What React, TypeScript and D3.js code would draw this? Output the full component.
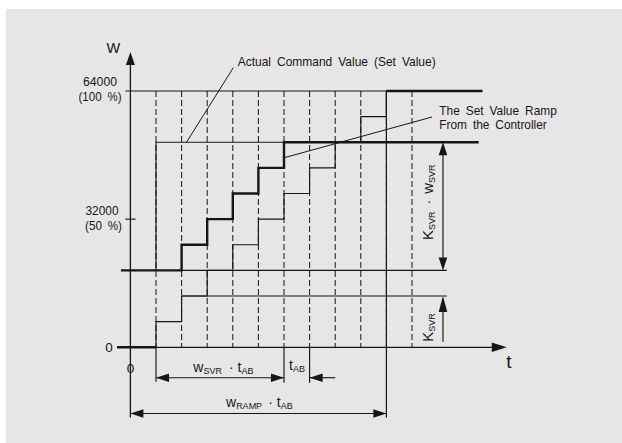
import React from "react";
import * as d3 from "d3";

// ---- data (time in units of t_AB, value in raw units) ----
const gridTimes = [1, 2, 3, 4, 5, 6, 7, 8, 9, 10, 11];
const yTickLabels = [["0"], ["32000", "(50 %)"], ["64000", "(100 %)"]];

// thick ramp from the controller (19200 -> 51200)
const rampTimes = [-0.37, 2, 3, 4, 5, 6, 13.6];
const rampValues = [19200, 25600, 32000, 38400, 44800, 51200, 51200];

// thin staircase 0 -> 64000
const stairTimes = [-0.52, 1, 2, 3, 4, 5, 6, 7, 8, 9, 10, 13.75];
const stairValues = [0, 6400, 12800, 19200, 25600, 32000, 38400, 44800, 51200, 57600, 64000, 64000];

// actual command value (set value)
const cmdTimes = [1, 1, 13.6];
const cmdValues = [19200, 51200, 51200];

const W = 622;
const H = 443;
const INK = "#161616";
const FONT = "'Liberation Sans Narrow', 'Liberation Sans', Arial, sans-serif";

export default function App() {
  const x = d3.scaleLinear().domain([0, 15]).range([130.4, 130.4 + 25.6 * 15]);
  const y = d3.scaleLinear().domain([0, 64000]).range([347.3, 91]);

  const stepLine = d3
    .line<[number, number]>()
    .x((d) => x(d[0]))
    .y((d) => y(d[1]))
    .curve(d3.curveStepAfter);
  const plainLine = d3
    .line<[number, number]>()
    .x((d) => x(d[0]))
    .y((d) => y(d[1]));

  const ramp = rampTimes.map((t, i) => [t, rampValues[i]] as [number, number]);
  const stair = stairTimes.map((t, i) => [t, stairValues[i]] as [number, number]);
  const cmd = cmdTimes.map((t, i) => [t, cmdValues[i]] as [number, number]);

  const arrow = (tipX: number, tipY: number, dir: "l" | "r" | "u" | "d", len = 13, half = 4.5) => {
    let pts: number[][] = [];
    if (dir === "l") pts = [[tipX, tipY], [tipX + len, tipY - half], [tipX + len, tipY + half]];
    if (dir === "r") pts = [[tipX, tipY], [tipX - len, tipY - half], [tipX - len, tipY + half]];
    if (dir === "u") pts = [[tipX, tipY], [tipX - half, tipY + len], [tipX + half, tipY + len]];
    if (dir === "d") pts = [[tipX, tipY], [tipX - half, tipY - len], [tipX + half, tipY - len]];
    return <polygon points={pts.map((p) => p.join(",")).join(" ")} fill={INK} />;
  };

  const x0 = x(0);
  const yZero = y(0);
  const tDim = 12.21; // vertical dimension line position
  const tRef = 12.36; // end of reference lines
  const dimY1 = 377.7;
  const dimY2 = 413.5;
  const thin = 1.15;
  const thick = 2.4;

  return (
    <svg
      width={W}
      height={H}
      style={{ position: "absolute", left: 0, top: 0, background: "#fff" }}
      fontFamily={FONT}
    >
      <rect x={6} y={9} width={W - 6} height={H - 9} fill="#e6e6e6" />

      {/* dashed grid */}
      {gridTimes.map((t) => (
        <line
          key={t}
          x1={x(t)}
          x2={x(t)}
          y1={y(64000)}
          y2={yZero}
          stroke={INK}
          strokeWidth={1}
          strokeDasharray="6,3"
        />
      ))}

      {/* reference lines */}
      <line x1={x(-0.2)} x2={x(10)} y1={y(64000)} y2={y(64000)} stroke={INK} strokeWidth={thin} />
      <line x1={x(2)} x2={x(tRef)} y1={y(19200)} y2={y(19200)} stroke={INK} strokeWidth={thin} />
      <line x1={x(2)} x2={x(tRef)} y1={y(12800)} y2={y(12800)} stroke={INK} strokeWidth={thin} />

      {/* thin staircase */}
      <path d={stepLine(stair) || ""} fill="none" stroke={INK} strokeWidth={thin} />
      {/* thick start/end of staircase */}
      <path d={plainLine([stair[0], [1, 0]]) || ""} stroke={INK} strokeWidth={thick} />
      <path d={plainLine([[10, 64000], stair[stair.length - 1]]) || ""} stroke={INK} strokeWidth={thick} />

      {/* actual command value */}
      <path d={plainLine(cmd) || ""} fill="none" stroke={INK} strokeWidth={thin} />

      {/* thick ramp */}
      <path d={stepLine(ramp) || ""} fill="none" stroke={INK} strokeWidth={thick} />

      {/* axes */}
      <line x1={x(-0.52)} x2={x(14.7) - 12} y1={yZero} y2={yZero} stroke={INK} strokeWidth={1.3} />
      {arrow(x(14.7), yZero, "r", 15, 4.7)}
      <line x1={x0} x2={x0} y1={dimY2 + 4} y2={65} stroke={INK} strokeWidth={1.3} />
      {arrow(x0, 52, "u", 13, 4.5)}
      <line x1={x(-0.2)} x2={x(0.2)} y1={y(32000)} y2={y(32000)} stroke={INK} strokeWidth={thin} />

      {/* y labels */}
      <text x={109} y={352.3} fontSize={13.5} textAnchor="middle" fill={INK}>{yTickLabels[0][0]}</text>
      <text x={102} y={215} fontSize={13.5} textAnchor="middle" fill={INK} textLength={33} lengthAdjust="spacingAndGlyphs">
        {yTickLabels[1][0]}
      </text>
      <text x={103.5} y={230} fontSize={13.5} textAnchor="middle" fill={INK} textLength={37} lengthAdjust="spacingAndGlyphs" wordSpacing={3}>
        {yTickLabels[1][1]}
      </text>
      <text x={100} y={86} fontSize={13.5} textAnchor="middle" fill={INK} textLength={34} lengthAdjust="spacingAndGlyphs">
        {yTickLabels[2][0]}
      </text>
      <text x={100} y={101} fontSize={13.5} textAnchor="middle" fill={INK} textLength={43} lengthAdjust="spacingAndGlyphs" wordSpacing={3}>
        {yTickLabels[2][1]}
      </text>
      <text x={130.5} y={373.3} fontSize={13.5} textAnchor="middle" fill={INK}>0</text>
      <text x={113.3} y={53.3} fontSize={14.5} textAnchor="middle" fill={INK}>W</text>
      <text x={509} y={368} fontSize={19} textAnchor="middle" fill={INK}>t</text>

      {/* annotations */}
      <line x1={233.3} y1={67.7} x2={186.5} y2={y(51200)} stroke={INK} strokeWidth={1} />
      <text x={237.7} y={66} fontSize={13.5} fill={INK} textLength={198} lengthAdjust="spacingAndGlyphs" wordSpacing={3}>
        Actual Command Value (Set Value)
      </text>
      <line x1={285} y1={157.5} x2={432} y2={117} stroke={INK} strokeWidth={1} />
      <text x={439.3} y={115} fontSize={13.5} fill={INK} textLength={117.5} lengthAdjust="spacingAndGlyphs" wordSpacing={3}>
        The Set Value Ramp
      </text>
      <text x={439.3} y={128.5} fontSize={13.5} fill={INK} textLength={107.5} lengthAdjust="spacingAndGlyphs" wordSpacing={3}>
        From the Controller
      </text>

      {/* horizontal dimension: w_SVR * t_AB */}
      <line x1={x(1)} x2={x(1)} y1={yZero} y2={dimY1 + 4} stroke={INK} strokeWidth={thin} />
      <line x1={x(6)} x2={x(6)} y1={yZero} y2={dimY1 + 5} stroke={INK} strokeWidth={thin} />
      <line x1={x(7)} x2={x(7)} y1={yZero} y2={dimY1 + 5} stroke={INK} strokeWidth={thin} />
      <line x1={x(1)} x2={x(6)} y1={dimY1} y2={dimY1} stroke={INK} strokeWidth={thin} />
      {arrow(x(1), dimY1, "l", 13, 4.3)}
      {arrow(x(6), dimY1, "r", 13, 4.3)}
      <line x1={x(7)} x2={x(8)} y1={dimY1} y2={dimY1} stroke={INK} strokeWidth={thin} />
      {arrow(x(7), dimY1, "l", 13, 4.3)}
      <text x={193.3} y={371.7} fontSize={14} fill={INK}>
        w<tspan fontSize={9} dy={2}>SVR</tspan>
        <tspan fontSize={14} dy={-2} dx={7}>·</tspan>
        <tspan fontSize={14} dx={4}>t</tspan>
        <tspan fontSize={9} dy={2}>AB</tspan>
      </text>
      <text x={289} y={370} fontSize={14} fill={INK}>
        t<tspan fontSize={9} dy={2}>AB</tspan>
      </text>

      {/* horizontal dimension: w_RAMP * t_AB */}
      <line x1={x(10)} x2={x(10)} y1={y(64000)} y2={dimY2 + 4} stroke={INK} strokeWidth={1.2} />
      <line x1={x0} x2={x(10)} y1={dimY2} y2={dimY2} stroke={INK} strokeWidth={thin} />
      {arrow(x0, dimY2, "l", 13, 4.3)}
      {arrow(x(10), dimY2, "r", 13, 4.3)}
      <text x={226} y={407} fontSize={14} fill={INK}>
        w<tspan fontSize={9} dy={2}>RAMP</tspan>
        <tspan fontSize={14} dy={-2} dx={6}>·</tspan>
        <tspan fontSize={14} dx={4}>t</tspan>
        <tspan fontSize={9} dy={2}>AB</tspan>
      </text>

      {/* vertical dimension: K_SVR * w_SVR */}
      <line x1={x(tDim)} x2={x(tDim)} y1={y(51200) + 12} y2={y(19200) - 12} stroke={INK} strokeWidth={thin} />
      {arrow(x(tDim), y(51200), "u", 13, 4.3)}
      {arrow(x(tDim), y(19200), "d", 13, 4.3)}
      <text transform={`translate(432.7,240) rotate(-90)`} fontSize={15} fill={INK}>
        K<tspan fontSize={9} dy={2}>SVR</tspan>
        <tspan fontSize={14} dy={-2} dx={7}>·</tspan>
        <tspan fontSize={15} dx={6}>w</tspan>
        <tspan fontSize={9} dy={2}>SVR</tspan>
      </text>

      {/* vertical dimension: K_SVR */}
      <line x1={x(tDim)} x2={x(tDim)} y1={y(12800) + 12} y2={341.7} stroke={INK} strokeWidth={thin} />
      {arrow(x(tDim), y(12800), "u", 16, 4.3)}
      <text transform={`translate(432.7,341.7) rotate(-90)`} fontSize={15} fill={INK}>
        K<tspan fontSize={9} dy={2}>SVR</tspan>
      </text>
    </svg>
  );
}
